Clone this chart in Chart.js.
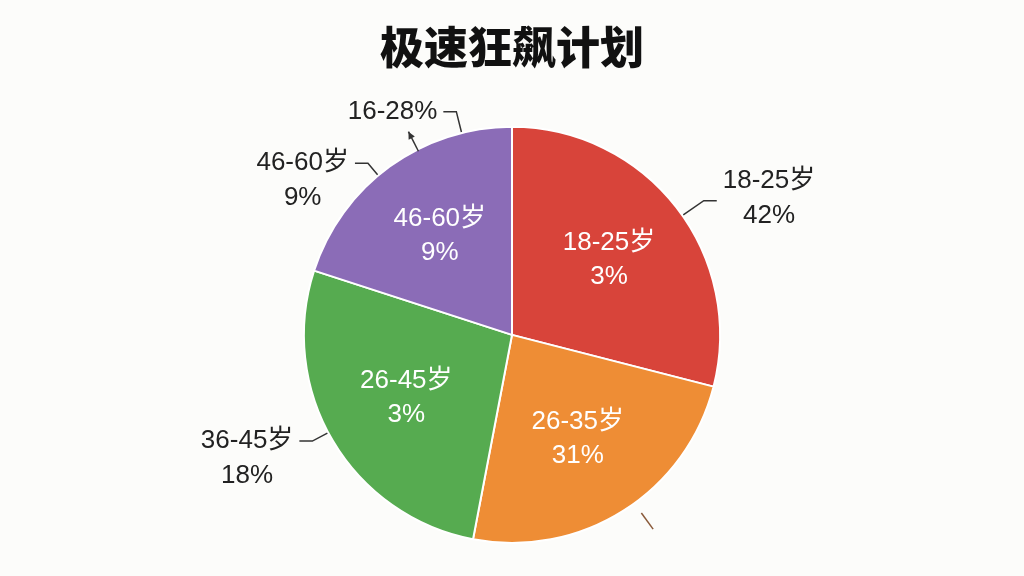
<!DOCTYPE html>
<html>
<head>
<meta charset="utf-8">
<script src="https://cdn.jsdelivr.net/npm/chart.js@4.4.1/dist/chart.umd.min.js"></script>
<style>
  html, body { margin: 0; padding: 0; background: #fcfcfa; }
  #wrap { width: 1024px; height: 576px; }
</style>
</head>
<body>
<div id="wrap"><canvas id="pie"></canvas></div>
<script>
// 数据
const categories = ['18-25岁', '26-35岁', '26-45岁', '46-60岁'];
const shares = [29, 24, 27, 20];
const innerPercents = ['3%', '31%', '3%', '9%'];

const outerNames = ['18-25岁', '36-45岁', '46-60岁', '16-28%'];
const outerPercents = ['42%', '18%', '9%', ''];

// 样式
const sliceColors = ['#d8443a', '#ee8d35', '#56ab50', '#8b6cb7'];
const labelFont = "'Liberation Sans', 'Noto Sans CJK SC', sans-serif";
// 外部标签：引线角度(度，顺时针自顶部)、引线外伸、文字纵向偏移
const outerLayout = [
  { angle: 55,  ext: 26, dy: -20 },
  { angle: 242, ext: 18, dy: 0 },
  { angle: 320, ext: 16, dy: 0 },
  { angle: 346, ext: 22, dy: 0 }
];

const labelPlugin = {
  id: 'sliceLabels',
  afterDatasetsDraw(chart) {
    const ctx = chart.ctx;
    const arcs = chart.getDatasetMeta(0).data;
    const cx = arcs[0].x, cy = arcs[0].y, r = arcs[0].outerRadius;
    const pt = (deg, dist) => {
      const a = (deg - 90) * Math.PI / 180;
      return [cx + Math.cos(a) * dist, cy + Math.sin(a) * dist];
    };

    ctx.save();
    ctx.textAlign = 'center';
    ctx.textBaseline = 'middle';

    // 内部标签
    ctx.fillStyle = '#ffffff';
    ctx.font = '26px ' + labelFont;
    arcs.forEach((arc, i) => {
      const mid = (arc.startAngle + arc.endAngle) / 2;
      const x = cx + Math.cos(mid) * r * 0.59;
      const y = cy + Math.sin(mid) * r * 0.59;
      ctx.fillText(categories[i], x, y - 17);
      ctx.fillText(innerPercents[i], x, y + 17);
    });

    // 外部标签与引线
    ctx.strokeStyle = '#333333';
    ctx.lineWidth = 1.5;
    ctx.fillStyle = '#222222';
    ctx.font = '26px ' + labelFont;
    outerNames.forEach((name, i) => {
      const lay = outerLayout[i];
      const p0 = pt(lay.angle, r + 1);
      const p1 = pt(lay.angle, r + lay.ext);
      const side = p1[0] >= cx ? 1 : -1;
      const p2 = [p1[0] + side * 13, p1[1]];
      ctx.beginPath();
      ctx.moveTo(p0[0], p0[1]);
      ctx.lineTo(p1[0], p1[1]);
      ctx.lineTo(p2[0], p2[1]);
      ctx.stroke();

      const lines = outerPercents[i] ? [name, outerPercents[i]] : [name];
      const w = Math.max(...lines.map(t => ctx.measureText(t).width));
      const tx = p2[0] + side * (6 + w / 2);
      lines.forEach((t, k) => {
        ctx.fillText(t, tx, p2[1] + lay.dy + k * 35);
      });
    });

    // 橙色扇区外的短引线
    const o0 = pt(144, r + 12), o1 = pt(144, r + 32);
    ctx.beginPath();
    ctx.moveTo(o0[0], o0[1]);
    ctx.lineTo(o1[0], o1[1]);
    ctx.strokeStyle = '#8a5a3a';
    ctx.stroke();

    // 紫色扇区顶部的小箭头
    const a0 = pt(333, r - 2), a1 = pt(333, r + 20);
    ctx.strokeStyle = '#333333';
    ctx.beginPath();
    ctx.moveTo(a0[0], a0[1]);
    ctx.lineTo(a1[0], a1[1]);
    ctx.stroke();
    const ang = Math.atan2(a1[1] - a0[1], a1[0] - a0[0]);
    ctx.beginPath();
    ctx.moveTo(a1[0], a1[1]);
    ctx.lineTo(a1[0] - 8 * Math.cos(ang - 0.45), a1[1] - 8 * Math.sin(ang - 0.45));
    ctx.lineTo(a1[0] - 8 * Math.cos(ang + 0.45), a1[1] - 8 * Math.sin(ang + 0.45));
    ctx.closePath();
    ctx.fillStyle = '#333333';
    ctx.fill();

    ctx.restore();
  }
};

new Chart(document.getElementById('pie'), {
  type: 'pie',
  data: {
    labels: categories,
    datasets: [{
      data: shares,
      backgroundColor: sliceColors,
      borderColor: '#ffffff',
      borderWidth: 2
    }]
  },
  options: {
    responsive: true,
    maintainAspectRatio: false,
    animation: false,
    layout: { padding: { top: 0, bottom: 32 } },
    plugins: {
      legend: { display: false },
      tooltip: { enabled: false },
      title: {
        display: true,
        text: '极速狂飙计划',
        color: '#111111',
        font: { family: "'Noto Sans CJK SC', sans-serif", size: 44, weight: '900' },
        padding: { top: 21, bottom: 52 }
      }
    }
  },
  plugins: [labelPlugin]
});
</script>
</body>
</html>
